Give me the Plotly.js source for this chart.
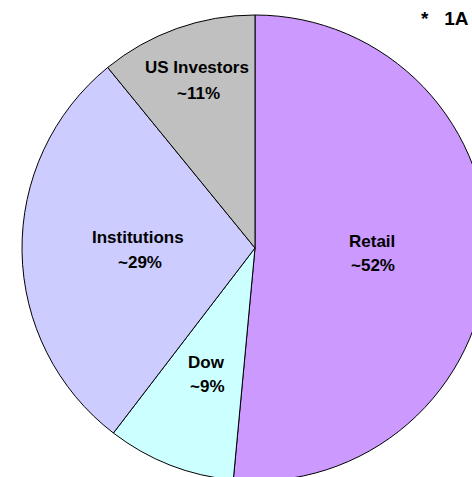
<!DOCTYPE html>
<html>
<head>
<meta charset="utf-8">
<script src="https://cdn.plot.ly/plotly-3.0.1.min.js"></script>
<style>
html,body{margin:0;padding:0;overflow:hidden;width:472px;height:477px;background:#fff;}
#chart{width:520px;height:520px;}
</style>
</head>
<body>
<div id="chart"></div>
<script>
var categories = ["Retail", "Dow", "Institutions", "US Investors"];
var shareValues = [52, 9, 29, 11];
var shareLabels = ["~52%", "~9%", "~29%", "~11%"];
var sliceColors = ["#CC99FF", "#CCFFFF", "#CCCCFF", "#C0C0C0"];
var noteText = "*&nbsp;&nbsp;&nbsp;1A";

var W = 520, H = 520;
function px(x){ return x / W; }
function py(y){ return 1 - y / H; }

// label anchor points (pixels) for each slice, same order as categories
var labelPos = [[372, 241], [206, 362], [138, 238], [197, 68]];
var labelPos2 = [[373, 265], [207, 386], [140, 262], [198, 93]];

var font = {family: "Liberation Sans, Arial, sans-serif", size: 17, color: "#000", weight: "bold"};
var annotations = [];
for (var i = 0; i < categories.length; i++) {
  annotations.push({xref:"paper", yref:"paper", x:px(labelPos[i][0]), y:py(labelPos[i][1]),
    text:categories[i], showarrow:false, font:font, xanchor:"center", yanchor:"middle"});
  annotations.push({xref:"paper", yref:"paper", x:px(labelPos2[i][0]), y:py(labelPos2[i][1]),
    text:shareLabels[i], showarrow:false, font:font, xanchor:"center", yanchor:"middle"});
}
annotations.push({xref:"paper", yref:"paper", x:px(419), y:py(19), text:noteText, showarrow:false,
  xanchor:"left", yanchor:"middle", font:{family:"Liberation Sans, Arial, sans-serif", size:19, color:"#000", weight:"bold"}});

var cx = 255, cy = 248, r = 233;
var data = [{
  type: "pie",
  labels: categories,
  values: shareValues,
  sort: false,
  direction: "clockwise",
  rotation: 0,
  textinfo: "none",
  hoverinfo: "none",
  marker: {colors: sliceColors, line: {color: "#000", width: 1}},
  domain: {x: [px(cx - r), px(cx + r)], y: [py(cy + r), py(cy - r)]}
}];

var layout = {
  width: W, height: H,
  margin: {l:0, r:0, t:0, b:0},
  showlegend: false,
  paper_bgcolor: "#fff",
  annotations: annotations
};

Plotly.newPlot("chart", data, layout, {staticPlot: true, displayModeBar: false});
</script>
</body>
</html>
